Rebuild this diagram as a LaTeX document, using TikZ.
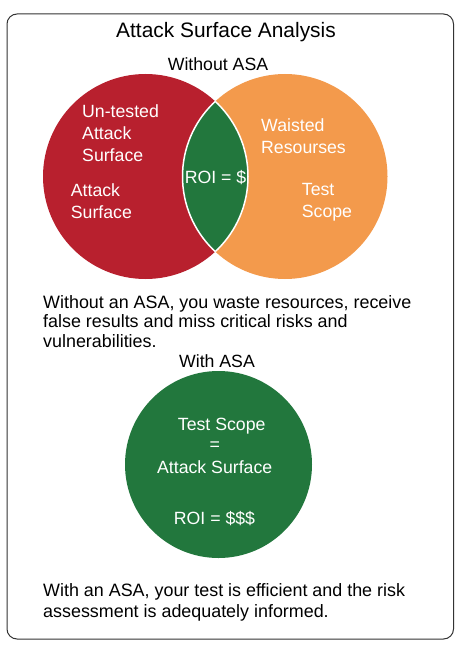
\documentclass[tikz,border=0pt]{standalone}
\usepackage{fontspec}
\setmainfont{Liberation Sans}
\definecolor{asared}{HTML}{B8202E}
\definecolor{asaorange}{HTML}{F39A4C}
\definecolor{asagreen}{HTML}{22773D}

\begin{document}
\begin{tikzpicture}[x=1pt,y=-1pt,
    venntext/.style={text=white, font=\fontsize{17.7}{21.8}\selectfont, align=left, inner sep=0pt, anchor=base west},
    bodytext/.style={font=\fontsize{17.9}{19.6}\selectfont, align=left, inner sep=0pt, anchor=base west},
    headtext/.style={font=\fontsize{17.7}{21}\selectfont, inner sep=0pt, anchor=base}]
    \useasboundingbox (0,0) rectangle (462,647);
    \draw[line width=1pt, color=black!80, rounded corners=10pt] (7,14) rectangle (453.5,639);
    \node[font=\fontsize{20.9}{24}\selectfont, inner sep=0pt, anchor=base] (title) at (226,37.7) {Attack Surface Analysis};
    % without ASA
    \node[headtext] (without) at (218,71) {Without ASA};
    \node[circle, fill=asared, minimum size=205pt, inner sep=0pt] (untested) at (145.5,176.5) {};
    \node[circle, fill=asaorange, minimum size=205pt, inner sep=0pt] (wasted) at (285,176.5) {};
    \begin{scope}
        \clip (untested.center) circle (102.5);
        \fill[asagreen] (wasted.center) circle (102.5);
        \draw[white, line width=1.5pt] (wasted.center) circle (102.5);
    \end{scope}
    \begin{scope}
        \clip (wasted.center) circle (102.5);
        \draw[white, line width=1.5pt] (untested.center) circle (102.5);
    \end{scope}
    % base of a multi-line node = its last line
    \node[venntext, font=\fontsize{17.7}{22.2}\selectfont] (untestedtext) at (82,161.7) {Un-tested\\Attack\\Surface};
    \node[venntext] (surfacetext) at (70.7,218.3) {Attack\\Surface};
    \node[venntext, anchor=base] (roi) at (215.5,183.3) {ROI = \$};
    \node[venntext] (wastedtext) at (261,153.3) {Waisted\\Resourses};
    \node[venntext] (scopetext) at (301.7,217.3) {Test\\Scope};
    \node[bodytext] (withoutnote) at (43,347.3) {Without an ASA, you waste resources, receive\\false results and miss critical risks and\\vulnerabilities.};
    % with ASA
    \node[headtext] (with) at (217,367.3) {With ASA};
    \node[circle, fill=asagreen, minimum size=187pt, inner sep=0pt] (scope) at (218.5,464.5) {};
    \node[venntext, anchor=base] (scopeline) at (221.7,430.3) {Test Scope};
    \node[venntext, anchor=base] (equals) at (214.7,450.3) {=};
    \node[venntext, anchor=base] (surfaceline) at (214.7,473.3) {Attack Surface};
    \node[venntext, anchor=base] (roiline) at (214.5,524.3) {ROI = \$\$\$};
    \node[bodytext, font=\fontsize{17.9}{21.7}\selectfont] (withnote) at (43,617.7) {With an ASA, your test is efficient and the risk\\assessment is adequately informed.};
\end{tikzpicture}
\end{document}
